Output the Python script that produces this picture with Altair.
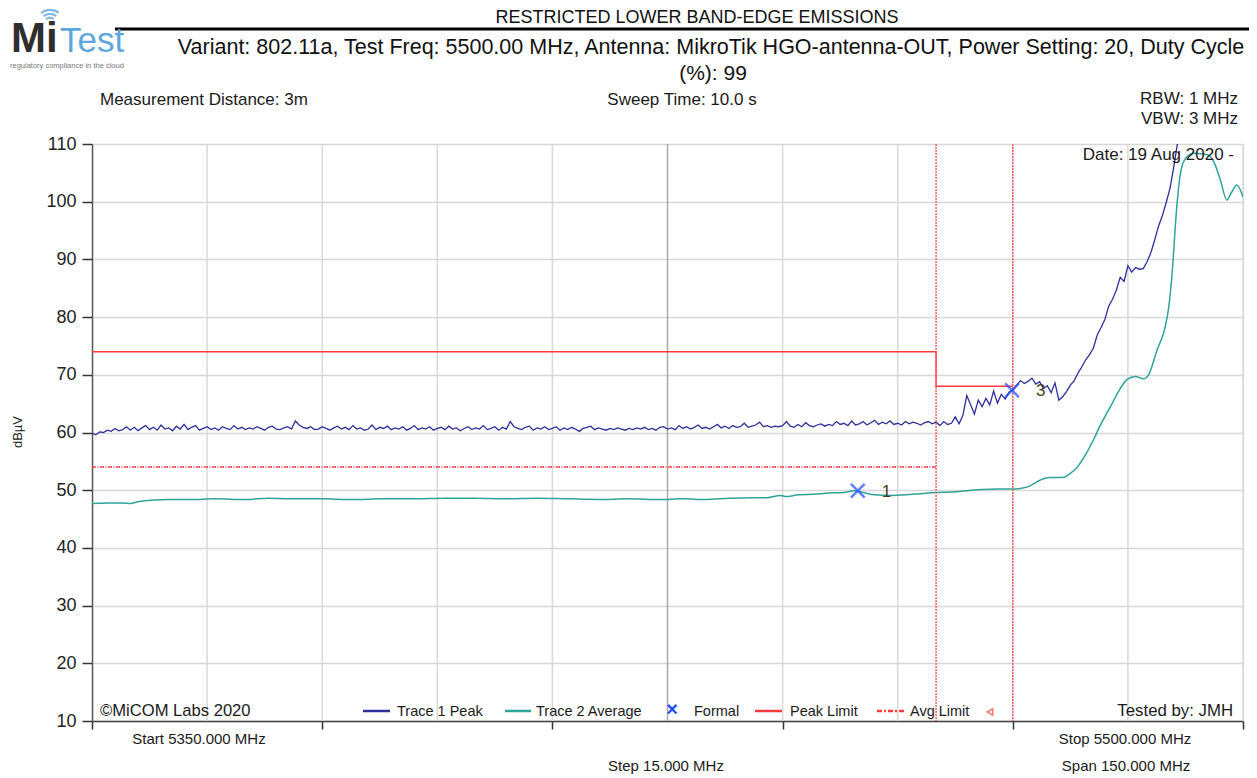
import altair as alt
import pandas as pd

# ---------------- data ----------------
PEAK_START = 5350.0
PEAK_STEP = 0.5
peak_vals = [
    # 5350 - 5359.5
    59.9, 59.6, 60.1, 60.0, 60.4, 60.2, 60.7, 60.3, 60.5, 61.0, 60.4, 60.9, 60.3, 60.8, 61.2, 60.5, 60.9, 60.4, 61.3, 60.6,
    # 5360 - 5369.5
    60.8, 60.3, 61.1, 60.6, 61.4, 60.5, 60.9, 61.2, 60.4, 60.7, 61.0, 60.5, 60.8, 60.4, 61.0, 60.7, 60.5, 61.2, 60.6, 60.9,
    # 5370 - 5379.5
    60.5, 60.8, 60.6, 61.0, 60.7, 60.4, 60.9, 61.1, 60.6, 60.5, 60.8, 61.0, 60.6, 62.0, 61.3, 60.9, 60.7, 61.0, 60.5, 60.6,
    # 5380 - 5389.5
    61.0, 60.7, 60.4, 60.8, 61.1, 60.6, 60.9, 60.5, 61.2, 60.6, 60.8, 60.4, 60.6, 61.3, 60.5, 60.9, 60.7, 61.1, 60.5, 60.8,
    # 5390 - 5399.5
    60.6, 61.0, 60.4, 60.7, 61.2, 60.5, 60.8, 60.6, 61.0, 60.4, 60.7, 60.9, 60.5, 61.1, 60.6, 60.8, 60.3, 60.7, 61.0, 60.5,
    # 5400 - 5409.5
    60.8, 60.6, 61.2, 60.5, 60.7, 61.0, 60.4, 60.9, 60.6, 61.9, 61.0, 60.7, 60.5, 60.9, 61.1, 60.4, 60.8, 60.6, 61.0, 60.5,
    # 5410 - 5419.5
    60.7, 61.0, 60.4, 60.8, 60.5, 60.9, 60.6, 60.2, 60.7, 60.9, 61.1, 60.5, 60.8, 60.6, 60.4, 60.7, 60.5, 60.8, 60.6, 60.4,
    # 5420 - 5429.5
    60.7, 60.5, 60.8, 60.6, 60.9, 60.5, 60.7, 60.4, 60.9, 61.0, 60.6, 60.8, 60.5, 61.2, 60.7, 61.0, 60.6, 60.9, 61.3, 60.7,
    # 5430 - 5439.5
    60.9, 60.6, 61.0, 61.4, 60.8, 61.1, 60.7, 61.2, 60.9, 61.0, 61.6, 60.9, 61.1, 61.3, 61.8, 61.0, 61.2, 60.9, 61.1, 61.0,
    # 5440 - 5449.5
    61.2, 61.9, 61.1, 60.9, 61.4, 61.0, 61.7, 61.2, 61.0, 61.3, 61.5, 61.1, 61.4, 61.2, 61.9, 61.4, 61.6, 61.2, 62.0, 61.3,
    # 5450 - 5459.5
    61.5, 61.9, 61.3, 61.7, 62.1, 61.4, 61.8, 61.5, 62.0, 61.4, 61.6, 61.3, 61.9, 61.5, 61.8, 61.6, 61.3, 61.7, 61.9, 61.5,
    # 5460 - 5469.5
    61.8, 61.2, 61.9, 61.4, 61.6, 62.7, 61.5, 63.0, 66.4, 64.8, 63.2, 65.6, 64.5, 65.9, 64.8, 67.2, 65.1, 66.6, 65.8, 67.0,
    # 5470 - 5479.5
    67.4, 68.2, 69.0, 68.5, 68.9, 69.4, 68.4, 68.8, 67.6, 68.1, 66.9, 68.6, 65.6, 66.2, 67.1, 68.2, 69.0, 70.3, 71.4, 72.6,
    # 5480 - 5489.5
    73.5, 74.6, 76.9, 78.2, 79.6, 81.9, 83.1, 84.7, 86.9, 86.2, 88.9, 87.8, 88.6, 88.3, 88.4, 89.6, 91.2, 93.4, 95.8, 97.6,
    # 5490 - 5500
    99.9, 102.4, 106.2, 110.5, 113.0, 114.8, 116.2, 116.9, 117.5, 117.8, 118.0, 117.7, 117.6, 117.9, 117.4, 117.8, 117.6, 117.9, 117.5, 117.7, 117.9,
]

avg_freq = [5350, 5352, 5354, 5355, 5356, 5358, 5360, 5363, 5366, 5370, 5373, 5376, 5380, 5384, 5388,
            5392, 5396, 5400, 5404, 5408, 5412, 5416, 5420, 5424, 5427, 5430, 5433, 5436, 5438, 5439.7,
            5440.5, 5442, 5444, 5446, 5448, 5449.3, 5450.5, 5452, 5454, 5456, 5458, 5460, 5462, 5464,
            5466, 5468, 5470, 5471, 5472.2, 5473.2, 5474, 5475, 5476.5, 5477.5, 5478.4, 5479.5, 5480.5,
            5481.5, 5482.7, 5484, 5484.9, 5486, 5487, 5487.7, 5488.8, 5489.8, 5490.3, 5490.8, 5491.3,
            5491.8, 5492.4, 5493.5, 5494.5, 5495.5, 5496.3, 5497, 5497.9, 5498.5, 5499.2, 5500]
avg_vals = [47.7, 47.8, 47.8, 47.7, 48.0, 48.3, 48.4, 48.4, 48.5, 48.4, 48.6, 48.5, 48.5, 48.4, 48.5,
            48.5, 48.6, 48.6, 48.5, 48.6, 48.5, 48.4, 48.5, 48.4, 48.5, 48.4, 48.6, 48.7, 48.7, 49.1,
            48.9, 49.2, 49.3, 49.5, 49.6, 49.9, 49.6, 49.2, 49.1, 49.2, 49.4, 49.6, 49.7, 49.9,
            50.1, 50.2, 50.2, 50.3, 50.7, 51.5, 52.0, 52.2, 52.2, 52.9, 54.0, 56.2, 58.7,
            61.5, 64.4, 67.6, 69.2, 69.7, 69.3, 70.0, 74.3, 78.0, 81.5, 88.2, 98.0,
            104.5, 107.3, 108.4, 108.3, 108.1, 106.6, 104.0, 100.3, 101.6, 102.9, 100.8]

peak_limit_freq = [5350, 5460, 5460, 5470]
peak_limit_val = [74, 74, 68, 68]
avg_limit_freq = [5350, 5460]
avg_limit_val = [54, 54]
band_edge_freq = [5460, 5470]
grid_freq = [5365, 5380, 5395, 5410, 5440, 5455, 5470, 5485, 5500]
centre_freq = [5425]
x_tick_vals = [5350, 5380, 5410, 5440, 5470, 5500]
y_tick_vals = [10, 20, 30, 40, 50, 60, 70, 80, 90, 100, 110]
marker_freq = [5449.8, 5469.9]
marker_val = [49.9, 67.3]
marker_lbl = ["1", "3"]

# ---------------- styling ----------------
W, H = 1151, 577
PL, PT = 92, 144          # page position of plot origin
F_REG = "Liberation Sans"
PEAK_C = "#2f2f9c"
AVG_C = "#2ea39b"
RED = "#ff3b3b"
GRID_C = "#d8d8d8"

peak_df = pd.DataFrame({"f": [PEAK_START + i * PEAK_STEP for i in range(len(peak_vals))], "v": peak_vals})
avg_df = pd.DataFrame({"f": avg_freq, "v": avg_vals})
pl_df = pd.DataFrame({"f": peak_limit_freq, "v": peak_limit_val, "o": range(len(peak_limit_val))})
al_df = pd.DataFrame({"f": avg_limit_freq, "v": avg_limit_val})
be_df = pd.DataFrame({"f": band_edge_freq})
grid_df = pd.DataFrame({"f": grid_freq})
centre_df = pd.DataFrame({"f": centre_freq})
mk_df = pd.DataFrame({"f": marker_freq, "v": marker_val, "t": marker_lbl})

xscale = alt.Scale(domain=[5350, 5500], nice=False, zero=False)
yscale = alt.Scale(domain=[10, 110], nice=False, zero=False)
xaxis = alt.Axis(values=x_tick_vals, labels=False, grid=False, tickSize=8, tickColor="#333",
                 domainColor="#444", domainWidth=1.5, tickWidth=1.5, title=None)
yaxis = alt.Axis(values=y_tick_vals, grid=True, gridColor=GRID_C, gridWidth=1.5, tickSize=10,
                 tickColor="#333", tickWidth=1.5, domainColor="#555", domainWidth=1.5,
                 labelFont=F_REG, labelFontSize=18, labelColor="#222", labelPadding=6, title=None)

X = lambda: alt.X("f:Q", scale=xscale, axis=xaxis)
Y = lambda: alt.Y("v:Q", scale=yscale, axis=yaxis)

one = pd.DataFrame({"a": [0]})


def txt(s, px, py, size, align="left", font=F_REG, color="#1a1a1a", weight="normal", angle=0, baseline="middle"):
    kw = dict(text=s, fontSize=size, align=align, baseline=baseline, font=font, color=color, fontWeight=weight)
    if angle:
        kw["angle"] = angle
    return alt.Chart(one).mark_text(**kw).encode(x=alt.value(px - PL), y=alt.value(py - PT))


def hline(px1, px2, py, color, width, dash=None):
    kw = dict(color=color, strokeWidth=width)
    if dash:
        kw["strokeDash"] = dash
    return alt.Chart(one).mark_rule(**kw).encode(x=alt.value(px1 - PL), x2=alt.value(px2 - PL), y=alt.value(py - PT))


layers = []
# base with axes (horizontal grid from y axis)
layers.append(alt.Chart(avg_df).mark_line(opacity=0).encode(x=X(), y=Y()))
# vertical grid
layers.append(alt.Chart(grid_df).mark_rule(color=GRID_C, strokeWidth=1.5).encode(x=X()))
layers.append(alt.Chart(centre_df).mark_rule(color="#a9a9a9", strokeWidth=1.5).encode(x=X()))
# limits
layers.append(alt.Chart(pl_df).mark_line(color=RED, strokeWidth=1.5).encode(x=X(), y=Y(), order="o:Q"))
layers.append(alt.Chart(al_df).mark_line(color=RED, strokeWidth=1.5, strokeDash=[4, 1.5, 1, 1.5]).encode(x=X(), y=Y()))
# traces
layers.append(alt.Chart(avg_df).mark_line(color=AVG_C, strokeWidth=1.5, interpolate="monotone", clip=True).encode(x=X(), y=Y()))
layers.append(alt.Chart(peak_df).mark_line(color=PEAK_C, strokeWidth=1.3, clip=True).encode(x=X(), y=Y()))
# band edge lines
layers.append(alt.Chart(be_df).mark_rule(color="#ff6060", strokeWidth=1.5, strokeDash=[2, 1]).encode(x=X()))
# markers
layers.append(alt.Chart(mk_df).mark_point(shape="M-1,-1L1,1M-1,1L1,-1", size=190, strokeWidth=2.5,
                                          color="#1f4dff", filled=False).encode(x=X(), y=Y()))
layers.append(alt.Chart(mk_df).mark_text(align="left", dx=24, dy=1, fontSize=17, font=F_REG, color="#4a3b22")
              .encode(x=X(), y=Y(), text="t:N"))

# header
layers.append(txt("RESTRICTED LOWER BAND-EDGE EMISSIONS", 697, 18, 18, "center", F_REG, "#111"))
layers.append(hline(115, 1249, 29, "#000", 3))
layers.append(txt("Variant: 802.11a, Test Freq: 5500.00 MHz, Antenna: MikroTik HGO-antenna-OUT, Power Setting: 20, Duty Cycle",
                  711, 48, 21.5, "center", F_REG, "#111"))
layers.append(txt("(%): 99", 713, 74, 21, "center", F_REG, "#111"))
layers.append(txt("Measurement Distance: 3m", 100, 100, 17))
layers.append(txt("Sweep Time: 10.0 s", 682, 100, 17, "center"))
layers.append(txt("RBW: 1 MHz", 1238, 99, 17, "right"))
layers.append(txt("VBW: 3 MHz", 1238, 119, 17, "right"))
layers.append(txt("Date: 19 Aug 2020 -", 1234, 155, 17, "right"))
layers.append(txt("dBµV", 18, 432, 13, "center", F_REG, "#222", angle=270))

# logo
layers.append(txt("Mi", 11, 52, 42, "left", F_REG, "#2e2e2e", "bold", baseline="alphabetic"))
layers.append(txt("Test", 60, 52, 35, "left", F_REG, "#5ea7dc", baseline="alphabetic"))
layers.append(txt("regulatory compliance in the cloud", 10, 66, 7.5, "left", F_REG, "#777"))
for r in [5, 9, 13]:
    layers.append(alt.Chart(one).mark_arc(color="#7fb8e4", radius=r, radius2=r + 2.2, theta=5.6, theta2=6.95)
                  .encode(x=alt.value(50 - PL), y=alt.value(24 - PT)))

# legend row inside plot
layers.append(txt("©MiCOM Labs 2020", 100, 711, 16.6))
layers.append(hline(363, 390, 711, PEAK_C, 2.5))
layers.append(txt("Trace 1 Peak", 397, 712, 14.5))
layers.append(hline(505, 531, 711, AVG_C, 2.5))
layers.append(txt("Trace 2 Average", 536, 712, 14.5))
layers.append(txt("×", 672, 710, 20, "center", F_REG, "#1f4dff", "bold"))
layers.append(txt("Formal", 694, 712, 14.5))
layers.append(hline(755, 782, 711, RED, 2.5))
layers.append(txt("Peak Limit", 790, 712, 14.5))
layers.append(hline(877, 905, 711, RED, 2.5, [5, 2, 2, 2]))
layers.append(txt("Avg Limit", 910, 712, 14.5))
layers.append(alt.Chart(one).mark_point(shape="triangle-left", size=40, color=RED, filled=False, strokeWidth=1.5)
              .encode(x=alt.value(990 - PL), y=alt.value(712 - PT)))
layers.append(txt("Tested by: JMH", 1233, 711, 16.8, "right"))

# below axis
layers.append(txt("Start 5350.000 MHz", 199, 739, 15, "center"))
layers.append(txt("Stop 5500.000 MHz", 1125, 739, 15, "center"))
layers.append(txt("Step 15.000 MHz", 666, 766, 15, "center"))
layers.append(txt("Span 150.000 MHz", 1126, 766, 15, "center"))

chart = alt.layer(*layers).properties(
    width=W, height=H,
    padding={"left": 84, "top": 136, "right": 6, "bottom": 58},
    autosize=alt.AutoSizeParams(type="none"),
).configure_view(stroke=None).configure(background="white")

chart.save("out.html", embed_options={"renderer": "svg", "actions": False})
